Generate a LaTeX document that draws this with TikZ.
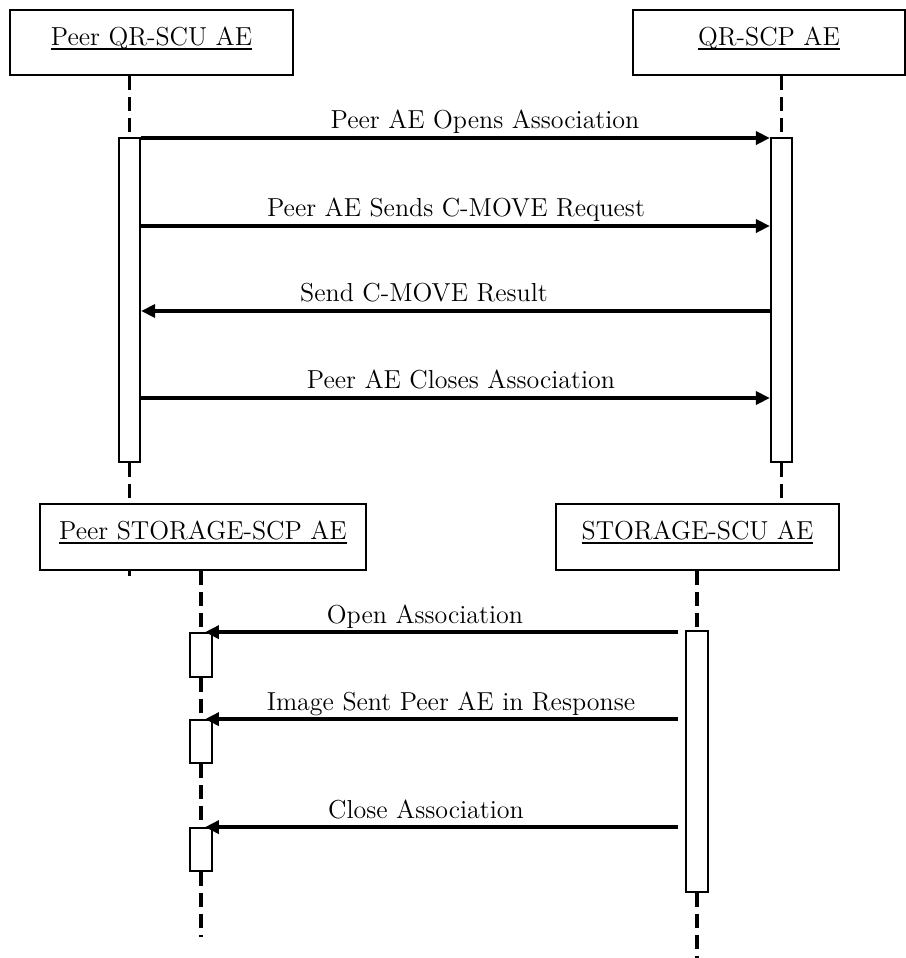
\documentclass[tikz,border=0pt]{standalone}
\usetikzlibrary{arrows.meta}

\newcommand{\actorname}[1]{\setbox0\hbox{#1}\rlap{\rule[-2.6pt]{\wd0}{1.1pt}}\box0}

\tikzset{
  actor/.style={draw, line width=1.2pt, fill=white, inner sep=0pt, text height=0.7cm, text depth=0.62cm},
  bar/.style={draw, line width=1pt, fill=white, inner sep=0pt, minimum width=0.43cm},
  life/.style={line width=1.9pt, dash pattern=on 0.28cm off 0.14cm},
  msg/.style={line width=2pt, -{Triangle[length=0.28cm,width=0.26cm]}},
}

\begin{document}
\begin{tikzpicture}[x=0.02cm, y=-0.02cm, font=\fontsize{14.8}{17}\selectfont]
\useasboundingbox (0,0) rectangle (906,958);

% draw upper actors and bars
\node (qrscu) [actor, minimum width=5.66cm, text depth=0.6cm] at (151.5,42.5) {\actorname{Peer QR-SCU AE}};
\node (qrscp) [actor, minimum width=5.44cm, text depth=0.6cm] at (769,42.5) {\actorname{QR-SCP AE}};
\node (bar1) [bar, minimum height=6.48cm] at (129.5,300) {};
\node (bar2) [bar, minimum height=6.48cm] at (781.5,300) {};

% draw upper lifelines
\coordinate (end1) at (130,576);
\draw[life] (bar1.north |- qrscu.south) -- (bar1.north);
\draw[life] (bar1.south) -- (bar1.south |- end1);
\draw[life] (bar2.north |- qrscp.south) -- (bar2.north);
\draw[life] (bar2.south) -- (bar2.south |- 0,504);

% draw lower actors and bars
\node (storscp) [actor, minimum width=6.52cm] at (203,537) {\actorname{Peer STORAGE-SCP AE}};
\node (storscu) [actor, minimum width=5.66cm] at (697.5,537) {\actorname{STORAGE-SCU AE}};
\node (s1) [bar, minimum height=0.88cm] at (201,655) {};
\node (s2) [bar, minimum height=0.86cm] at (201,741.5) {};
\node (s3) [bar, minimum height=0.86cm] at (201,849.5) {};
\node (bar4) [bar, minimum height=5.22cm] at (697,761.5) {};

% draw lower lifelines
\coordinate (end3) at (201,937);
\coordinate (end4) at (697,958);
\draw[life] (s1.north |- storscp.south) -- (s1.north);
\draw[life] (s1.south) -- (s2.north);
\draw[life] (s2.south) -- (s3.north);
\draw[life] (s3.south) -- (s3.south |- end3);
\draw[life] (bar4.north |- storscu.south) -- (bar4.north);
\draw[life] (bar4.south) -- (bar4.south |- end4);

% draw query messages
\coordinate (m1) at (0,138);
\coordinate (m2) at (0,226);
\coordinate (m3) at (0,311);
\coordinate (m4) at (0,398);
\draw[msg] (bar1.east |- m1) -- (bar2.west |- m1);
\draw[msg] (bar1.east |- m2) -- (bar2.west |- m2);
\draw[msg] (bar2.west |- m3) -- (bar1.east |- m3);
\draw[msg] (bar1.east |- m4) -- (bar2.west |- m4);

\node (t1) [anchor=base] at (485,128) {Peer AE Opens Association};
\node (t2) [anchor=base] at (456,216) {Peer AE Sends C-MOVE Request};
\node (t3) [anchor=base] at (424,301) {Send C-MOVE Result};
\node (t4) [anchor=base] at (461,388) {Peer AE Closes Association};

% draw storage messages
\coordinate (sx) at (678,0);
\coordinate (tx) at (205,0);
\draw[msg] (sx |- s1.north) -- (tx |- s1.north);
\draw[msg] (sx |- s2.north) -- (tx |- s2.north);
\draw[msg] (sx |- s3.north) -- (tx |- s3.north);

\node (t5) [anchor=base] at (425,623) {Open Association};
\node (t6) [anchor=base] at (451,710) {Image Sent Peer AE in Response};
\node (t7) [anchor=base] at (426,818) {Close Association};

\end{tikzpicture}
\end{document}
